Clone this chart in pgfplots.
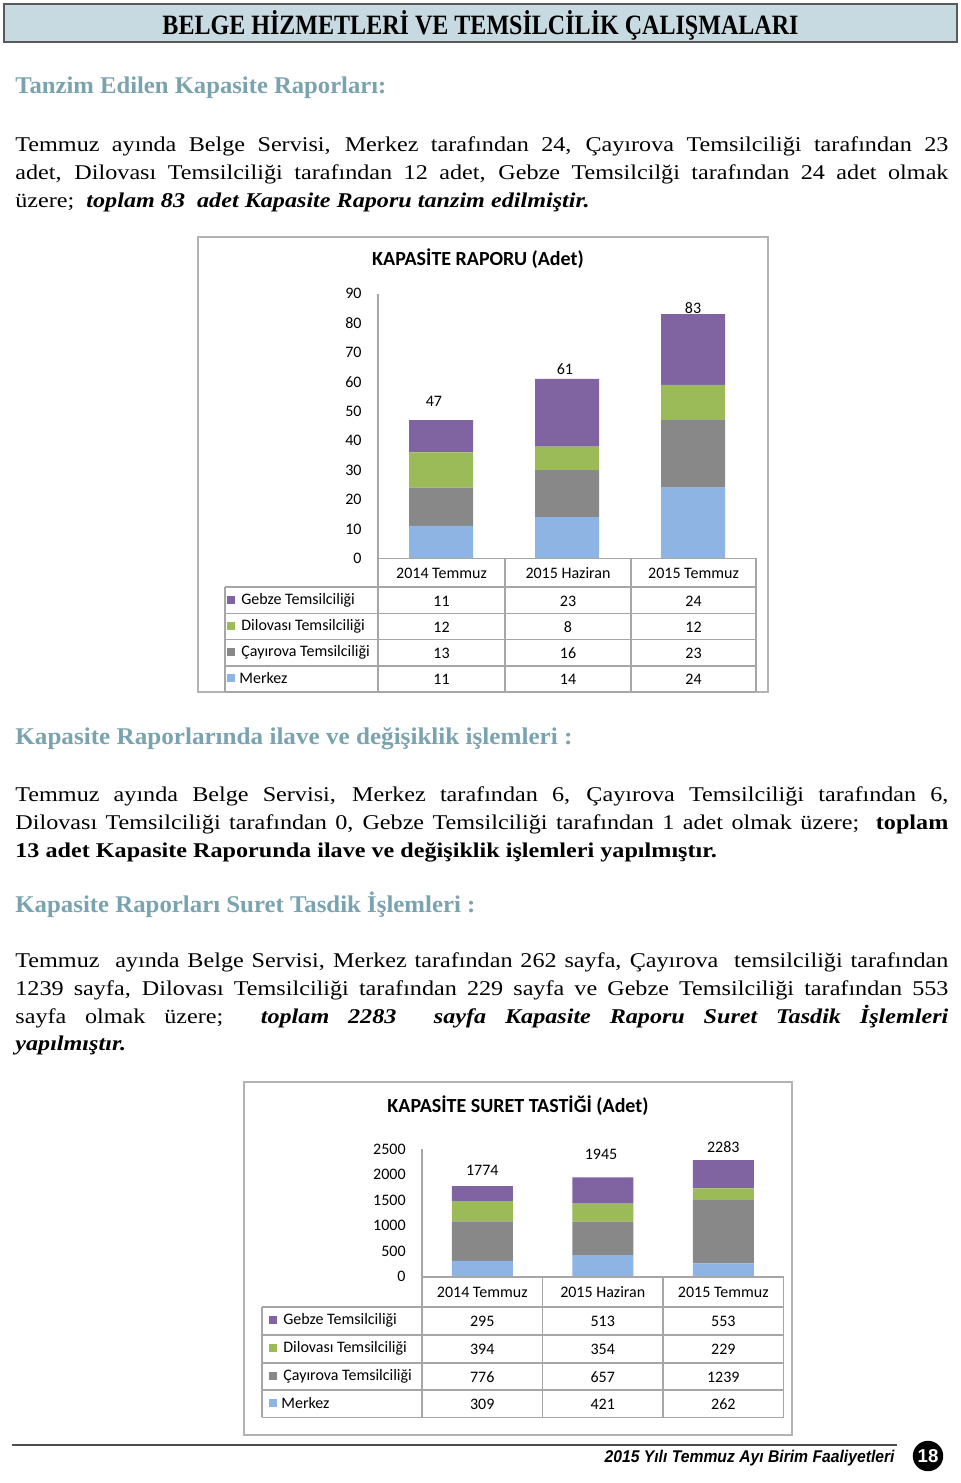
\documentclass[border=0pt]{standalone}
\usepackage{pgfplots}
\usepackage{pgfplotstable}
\pgfplotsset{compat=1.18}
\usepackage{fontspec}
\setmainfont{Liberation Serif}
\newfontfamily\body{Liberation Serif}[FakeStretch=1.15]
\newfontfamily\calib{Carlito}
\newfontfamily\arialf{Liberation Sans}
\definecolor{cMer}{HTML}{8DB4E2}
\definecolor{cCay}{HTML}{888888}
\definecolor{cDil}{HTML}{9BBB59}
\definecolor{cGeb}{HTML}{8064A2}
\definecolor{headc}{RGB}{122,163,176}
\definecolor{barc}{HTML}{C8DAE1}
\definecolor{gridc}{HTML}{A6A6A6}
\definecolor{framec}{HTML}{B3B3B3}

\pgfplotstableread{
x Merkez Cayirova Dilovasi Gebze
0 11 13 12 11
1 14 16 8 23
2 24 23 12 24
}\tabA
\pgfplotstableread{
x Merkez Cayirova Dilovasi Gebze
0 309 776 394 295
1 421 657 354 513
2 262 1239 229 553
}\tabB

\newcommand\J[1]{\makebox[466.5pt][s]{#1}}
\newcommand\bi[1]{\textbf{\textit{#1}}}

\pgfplotsset{kap/.style={
  scale only axis, anchor=south west, ybar stacked,
  xmin=-0.5, xmax=2.5, ymin=0,
  enlarge x limits=false, enlarge y limits=false,
  xtick=\empty, axis x line=none, axis y line*=left,
  y axis line style={draw=gridc, line width=0.8pt, -},
  major tick length=0pt,
  yticklabel style={font=\calib\fontsize{8}{9}\selectfont, inner sep=0pt, xshift=-8pt},
  /pgf/number format/assume math mode=true,
  /pgf/number format/1000 sep={},
  clip=false,
}}

\tikzset{
  bt/.style={anchor=base west, inner sep=0pt, font=\body\fontsize{10.5}{12}\selectfont},
  tot/.style={font=\calib\fontsize{8}{9}\selectfont, inner sep=0pt},
  tc/.style={font=\calib\fontsize{8}{9}\selectfont, inner sep=0pt},
  tl/.style={draw=gridc, line width=0.8pt},
}

\begin{document}
\begin{tikzpicture}[x=0.5pt,y=-0.5pt]
\fill[white] (0,0) rectangle (960,1483);
\path[use as bounding box] (0,0) rectangle (960,1483);

% header bar
\draw[fill=barc, draw=black!65, line width=0.9pt] (4,4) rectangle (957,42);
\node[anchor=base, inner sep=0pt] at (480.5,34) {\resizebox{318pt}{\height}{\fontsize{14}{16}\selectfont\bfseries BELGE HİZMETLERİ VE TEMSİLCİLİK ÇALIŞMALARI}};

% heading 1
\node[anchor=base west, inner sep=0pt, text=headc] at (15,93) {\resizebox{185.5pt}{\height}{\fontsize{12}{14}\selectfont\bfseries Tanzim Edilen Kapasite Raporları:}};
\node[bt] at (15,151) {\J{Temmuz ayında Belge Servisi, Merkez tarafından 24, Çayırova Temsilciliği tarafından 23}};
\node[bt] at (15,179) {\J{adet, Dilovası Temsilciliği tarafından 12 adet, Gebze Temsilcilği tarafından 24 adet olmak}};
\node[bt] at (15,207) {üzere;\ \ \bi{toplam 83\ \ adet Kapasite Raporu tanzim edilmiştir.}};

% heading 2
\node[anchor=base west, inner sep=0pt, text=headc] at (15,744) {\resizebox{278.5pt}{\height}{\fontsize{12}{14}\selectfont\bfseries Kapasite Raporlarında ilave ve değişiklik işlemleri :}};
\node[bt] at (15,801) {\J{Temmuz ayında Belge Servisi, Merkez tarafından 6, Çayırova Temsilciliği tarafından 6,}};
\node[bt] at (15,829) {\J{Dilovası Temsilciliği tarafından 0, Gebze Temsilciliği tarafından 1 adet olmak üzere;\ \ \textbf{toplam}}};
\node[bt] at (15,857) {\textbf{13 adet Kapasite Raporunda ilave ve değişiklik işlemleri yapılmıştır.}};

% heading 3
\node[anchor=base west, inner sep=0pt, text=headc] at (15,912) {\resizebox{230pt}{\height}{\fontsize{12}{14}\selectfont\bfseries Kapasite Raporları Suret Tasdik İşlemleri :}};
\node[bt] at (15,967) {\J{Temmuz\ \ ayında Belge Servisi, Merkez tarafından 262 sayfa, Çayırova\ \ temsilciliği tarafından}};
\node[bt] at (15,995) {\J{1239 sayfa, Dilovası Temsilciliği tarafından 229 sayfa ve Gebze Temsilciliği tarafından 553}};
\node[bt] at (15,1023) {\J{sayfa olmak üzere;\ \ \bi{toplam 2283\ \ sayfa Kapasite Raporu Suret Tasdik İşlemleri}}};
\node[bt] at (15,1050) {\bi{yapılmıştır.}};

% ================= chart 1 =================
\draw[framec, line width=0.8pt] (198,237) rectangle (768,692);
\node[font=\calib\bfseries\fontsize{10}{12}\selectfont] at (478,259) {KAPASİTE RAPORU (Adet)};
\begin{axis}[kap, at={(189pt,-279.15pt)}, width=189pt, height=132.35pt,
  ymax=90, ytick={0,10,...,90}, bar width=32pt]
\addplot[fill=cMer,draw=none] table[x=x,y=Merkez]{\tabA};
\addplot[fill=cCay,draw=none] table[x=x,y=Cayirova]{\tabA};
\addplot[fill=cDil,draw=none] table[x=x,y=Dilovasi]{\tabA};
\addplot[fill=cGeb,draw=none] table[x=x,y=Gebze]{\tabA};
\node[tot] at (axis cs:-0.056,53.4) {47};
\node[tot] at (axis cs:0.984,64.3) {61};
\node[tot, anchor=south] at (axis cs:2.0,83) {83};
\end{axis}
% table 1
\draw[tl] (378,558.3) -- (756,558.3);
\foreach \yy in {586.7,613.3,639.3,665.7,691.7} \draw[tl] (225,\yy) -- (756,\yy);
\draw[tl] (225,586.7) -- (225,691.7);
\foreach \xx in {378,505,631,756} \draw[tl] (\xx,558.3) -- (\xx,691.7);
\node[tc] at (441.5,573) {2014 Temmuz};
\node[tc] at (568,573) {2015 Haziran};
\node[tc] at (693.5,573) {2015 Temmuz};
\foreach \yy/\cc/\nm/\a/\b/\c/\xo in {600/cGeb/Gebze Temsilciliği/11/23/24/241, 626/cDil/Dilovası Temsilciliği/12/8/12/241, 652/cCay/Çayırova Temsilciliği/13/16/23/241, 678/cMer/Merkez/11/14/24/239}{
  \fill[\cc] (227,\yy-4) rectangle (235,\yy+4);
  \node[tc, anchor=west] at (\xo,\yy) {\nm};
  \node[tc] at (441.5,\yy+1) {\a};
  \node[tc] at (568,\yy+1) {\b};
  \node[tc] at (693.5,\yy+1) {\c};
}

% ================= chart 2 =================
\draw[framec, line width=0.8pt] (244,1082) rectangle (792,1435);
\node[font=\calib\bfseries\fontsize{10}{12}\selectfont] at (518,1106) {KAPASİTE SURET TASTİĞİ (Adet)};
\begin{axis}[kap, at={(211pt,-638.35pt)}, width=180.8pt, height=63.85pt,
  ymax=2500, ytick={0,500,...,2500}, bar width=30.5pt]
\addplot[fill=cMer,draw=none] table[x=x,y=Merkez]{\tabB};
\addplot[fill=cCay,draw=none] table[x=x,y=Cayirova]{\tabB};
\addplot[fill=cDil,draw=none] table[x=x,y=Dilovasi]{\tabB};
\addplot[fill=cGeb,draw=none] table[x=x,y=Gebze]{\tabB};
\node[tot] at (axis cs:0.0,2089) {1774};
\node[tot] at (axis cs:0.985,2402) {1945};
\node[tot] at (axis cs:2.0,2539) {2283};
\end{axis}
% table 2
\draw[tl] (422,1276.7) -- (783.6,1276.7);
\foreach \yy in {1306.7,1335,1362.7,1390,1417.3} \draw[tl] (262,\yy) -- (783.6,\yy);
\draw[tl] (262,1306.7) -- (262,1417.3);
\foreach \xx in {422,542.5,663,783.6} \draw[tl] (\xx,1276.7) -- (\xx,1417.3);
\node[tc] at (482.25,1292) {2014 Temmuz};
\node[tc] at (602.75,1292) {2015 Haziran};
\node[tc] at (723.3,1292) {2015 Temmuz};
\foreach \yy/\cc/\nm/\a/\b/\c/\xo in {1320/cGeb/Gebze Temsilciliği/295/513/553/283, 1348/cDil/Dilovası Temsilciliği/394/354/229/283, 1376/cCay/Çayırova Temsilciliği/776/657/1239/283, 1403/cMer/Merkez/309/421/262/281}{
  \fill[\cc] (269,\yy-4) rectangle (277,\yy+4);
  \node[tc, anchor=west] at (\xo,\yy) {\nm};
  \node[tc] at (482.25,\yy+1) {\a};
  \node[tc] at (602.75,\yy+1) {\b};
  \node[tc] at (723.3,\yy+1) {\c};
}

% footer
\draw[black!70, line width=1pt] (12,1445) -- (897,1445);
\node[anchor=base east, inner sep=0pt] at (895,1462) {\resizebox{145pt}{\height}{\arialf\fontsize{8.5}{10}\selectfont\bfseries\itshape 2015 Yılı Temmuz Ayı Birim Faaliyetleri}};
\fill[black] (928,1456) circle (7.6pt);
\node[text=white, inner sep=0pt, font=\arialf\bfseries\fontsize{11}{12}\selectfont] at (928,1456) {\resizebox{!}{6.5pt}{18}};
\end{tikzpicture}
\end{document}
